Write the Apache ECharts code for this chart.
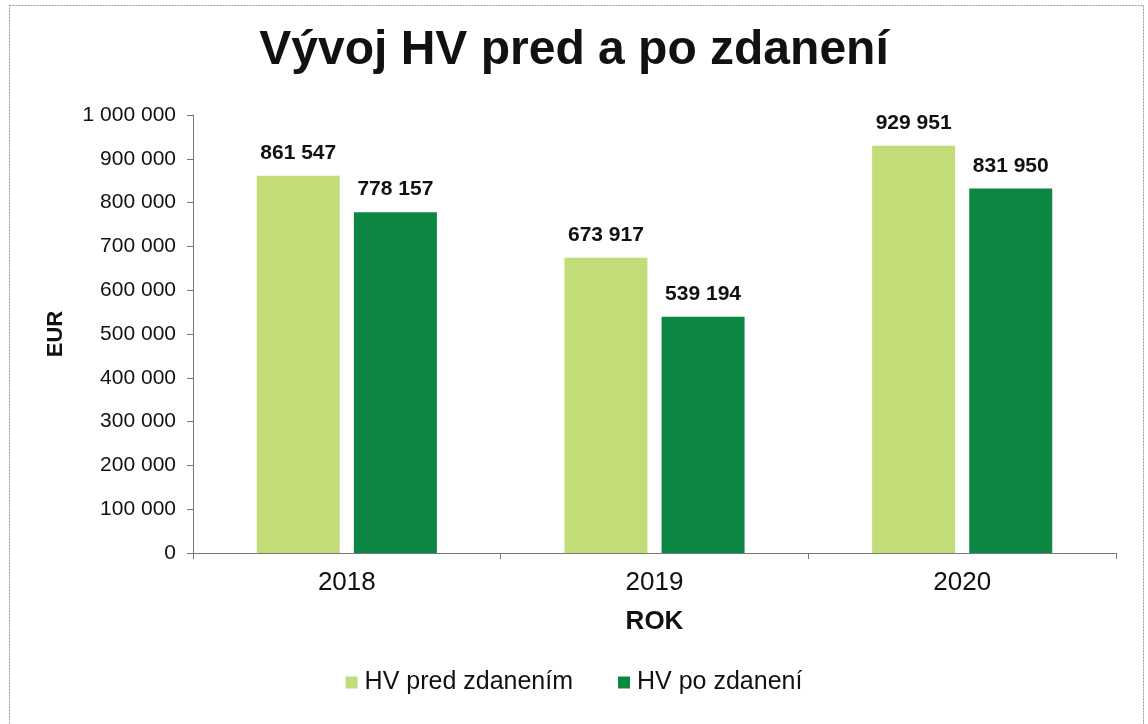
<!DOCTYPE html>
<html>
<head>
<meta charset="utf-8">
<script src="https://cdn.jsdelivr.net/npm/echarts@6/dist/echarts.min.js"></script>
<style>html,body{margin:0;padding:0;background:#fff}#c{width:1148px;height:724px}</style>
</head>
<body>
<div id="c"></div>
<script>
const categories = ['2018', '2019', '2020'];
const seriesNames = ['HV pred zdanením', 'HV po zdanení'];
const predZdanenim = [861547, 673917, 929951];
const poZdaneni = [778157, 539194, 831950];
const yTicks = [0, 100000, 200000, 300000, 400000, 500000, 600000, 700000, 800000, 900000, 1000000];

const fmt = v => String(Math.round(v)).replace(/\B(?=(\d{3})+(?!\d))/g, ' ');
const FONT = '"Liberation Sans", Arial, sans-serif';

const chart = echarts.init(document.getElementById('c'));
const labelCfg = {
  show: true, position: 'top', distance: 12,
  formatter: p => fmt(p.value),
  fontFamily: FONT, fontWeight: 'bold', fontSize: 21, color: '#111'
};
chart.setOption({
  animation: false,
  backgroundColor: '#fff',
  graphic: [{
    type: 'rect', shape: { x: 9.5, y: 5.5, width: 1134, height: 740 },
    style: { fill: 'none', stroke: '#999', lineWidth: 1, lineDash: [2, 1] }, silent: true
  }],
  title: {
    text: 'Vývoj HV pred a po zdanení', left: 'center', top: 22,
    textStyle: { fontFamily: FONT, fontWeight: 'bold', fontSize: 48, color: '#111' }
  },
  legend: {
    bottom: 24, left: 'center', itemWidth: 12, itemHeight: 12, itemGap: 45,
    icon: 'rect',
    textStyle: { fontFamily: FONT, fontSize: 25, color: '#111', padding: [0, 0, 0, 2] },
    data: seriesNames
  },
  grid: { left: 193, right: 32, top: 115, bottom: 171 },
  xAxis: {
    type: 'category', data: categories,
    name: 'ROK', nameLocation: 'middle', nameGap: 56,
    nameTextStyle: { fontFamily: FONT, fontWeight: 'bold', fontSize: 26, color: '#111' },
    axisLine: { lineStyle: { color: '#777', width: 1 } },
    axisTick: { show: true, length: 6, lineStyle: { color: '#777' } },
    axisLabel: { fontFamily: FONT, fontSize: 26, color: '#111', margin: 17 }
  },
  yAxis: {
    type: 'value', min: 0, max: 1000000, interval: 100000,
    name: 'EUR', nameLocation: 'middle', nameGap: 126, nameRotate: 90,
    nameTextStyle: { fontFamily: FONT, fontWeight: 'bold', fontSize: 22, color: '#111' },
    axisLine: { show: true, lineStyle: { color: '#777', width: 1 } },
    axisTick: { show: true, length: 6, lineStyle: { color: '#777' } },
    splitLine: { show: false },
    axisLabel: {
      fontFamily: FONT, fontSize: 21, color: '#111', margin: 17,
      formatter: v => yTicks.includes(v) ? fmt(v) : ''
    }
  },
  series: [
    {
      name: seriesNames[0], type: 'bar', data: predZdanenim,
      barWidth: 83, barGap: '17%',
      itemStyle: { color: '#c2dc78' }, label: labelCfg
    },
    {
      name: seriesNames[1], type: 'bar', data: poZdaneni,
      barWidth: 83,
      itemStyle: { color: '#0b8743' }, label: labelCfg
    }
  ]
});
</script>
</body>
</html>
